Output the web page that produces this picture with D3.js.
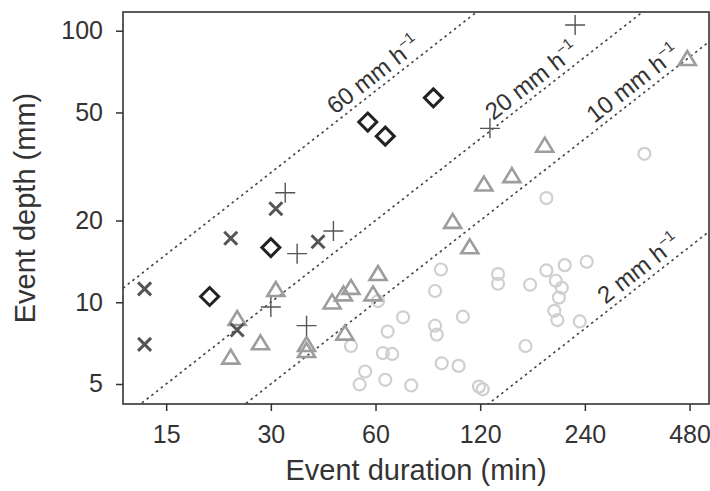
<!DOCTYPE html>
<html lang="en">
<head>
    <meta charset="UTF-8">
    <title>Event depth vs duration</title>
    <script src="https://d3js.org/d3.v7.min.js" charset="utf-8"></script>
    <style>
        body { margin: 0; background: #fff; }
        text { font-family: "Liberation Sans", Arial, sans-serif; }
    </style>
</head>
<body>
<script>
    // ticks
    var xTicks = [15, 30, 60, 120, 240, 480];
    var yTicks = [5, 10, 20, 50, 100];

    // rain intensity guide lines (mm per hour) and where their labels start (min)
    var rates = [60, 20, 10, 2];
    var rateLabelAt = [47, 134, 262, 282];

    // events, duration (min) and depth (mm), by group
    var circDur = [92.5, 89, 135, 135, 167, 186, 210, 243, 198, 206, 202, 196, 200, 232, 107, 89, 90, 72, 65,
                   63, 67, 93, 104, 162, 56, 54, 64, 76, 119, 122, 61, 51, 356, 186];
    var circDepth = [13.2, 11.0, 12.7, 11.7, 11.6, 13.1, 13.7, 14.1, 12.0, 11.3, 10.4, 9.3, 8.6, 8.5, 8.85, 8.2, 7.6, 8.8, 7.8,
                     6.5, 6.45, 5.96, 5.83, 6.9, 5.56, 4.98, 5.18, 4.94, 4.89, 4.78, 10.1, 6.9, 35.2, 24.2];

    var triDur = [473, 184, 148, 123, 100, 112, 61, 51, 48.5, 45, 59, 49, 38, 38, 31, 24, 28, 23];
    var triDepth = [78, 37.4, 28.9, 26.9, 19.6, 15.8, 12.6, 11.2, 10.6, 9.9, 10.6, 7.6, 6.9, 6.56, 11.0, 8.6, 7.0, 6.2];

    var crossDur = [31, 23, 41, 13, 13, 24];
    var crossDepth = [22.1, 17.2, 16.7, 11.2, 7.0, 7.9];

    var plusDur = [225, 128, 33, 35.7, 45.4, 30, 38];
    var plusDepth = [105, 43.7, 25.3, 15.1, 18.3, 9.6, 8.2];

    var diamondDur = [88, 57, 64, 30, 20];
    var diamondDepth = [56.6, 46.1, 40.9, 15.9, 10.5];

    var margin = {top: 12, right: 1, bottom: 87, left: 123},
        width = 710 - margin.left - margin.right,
        height = 491 - margin.top - margin.bottom;

    var x = d3.scaleLog().base(2).domain([11.27, 546]).range([0, width]);
    var y = d3.scaleLog().domain([4.22, 117.2]).range([height, 0]);

    var svg = d3.select("body").append("svg")
        .attr("width", 710)
        .attr("height", 491)
        .append("g")
        .attr("transform", "translate(" + margin.left + "," + margin.top + ")");

    svg.append("clipPath").attr("id", "plotclip")
        .append("rect").attr("width", width).attr("height", height);

    // guide lines
    var guides = svg.append("g").attr("clip-path", "url(#plotclip)");
    var xd = x.domain();
    rates.forEach(function (r) {
        var pts = [xd[0], xd[1]].map(function (t) { return [x(t), y(r * t / 60)]; });
        guides.append("path")
            .attr("d", d3.line()(pts))
            .attr("fill", "none")
            .attr("stroke", "#444")
            .attr("stroke-width", 1.6)
            .attr("stroke-dasharray", "2.5,3.5");
    });

    // guide labels
    rates.forEach(function (r, i) {
        var t = rateLabelAt[i];
        var px = x(t), py = y(r * t / 60);
        var ang = Math.atan2(y(r * t * 2 / 60) - py, x(t * 2) - px) * 180 / Math.PI;
        var lab = svg.append("text")
            .attr("transform", "translate(" + px + "," + py + ") rotate(" + ang + ")")
            .attr("dy", -6)
            .attr("font-size", 24)
            .attr("fill", "#333");
        lab.append("tspan").text(r + " mm h");
        lab.append("tspan").attr("font-size", 15).attr("dy", -10).text("\u22121");
    });

    function plot(dur, depth, draw) {
        dur.forEach(function (d, i) {
            draw(svg.append("g").attr("transform", "translate(" + x(d) + "," + y(depth[i]) + ")"));
        });
    }

    plot(circDur, circDepth, function (g) {
        g.append("circle").attr("r", 6).attr("fill", "none")
            .attr("stroke", "#cfcfcf").attr("stroke-width", 2.2);
    });
    plot(triDur, triDepth, function (g) {
        g.append("path").attr("d", "M0,-9L8.5,5L-8.5,5Z").attr("fill", "none")
            .attr("stroke", "#9d9d9d").attr("stroke-width", 2.6);
    });
    plot(crossDur, crossDepth, function (g) {
        g.append("path").attr("d", "M-6.5,-6.5L6.5,6.5M-6.5,6.5L6.5,-6.5")
            .attr("stroke", "#555").attr("stroke-width", 3);
    });
    plot(plusDur, plusDepth, function (g) {
        g.append("path").attr("d", "M-10,0L10,0M0,-10L0,10")
            .attr("stroke", "#555").attr("stroke-width", 1.4);
    });
    plot(diamondDur, diamondDepth, function (g) {
        g.append("path").attr("d", "M0,-9L9,0L0,9L-9,0Z").attr("fill", "none")
            .attr("stroke", "#222").attr("stroke-width", 3);
    });

    // axes
    var xAxis = svg.append("g")
        .attr("transform", "translate(0," + height + ")")
        .call(d3.axisBottom(x).tickValues(xTicks).tickFormat(d3.format("d")).tickSize(7).tickPadding(14));
    var yAxis = svg.append("g")
        .call(d3.axisLeft(y).tickValues(yTicks).tickFormat(d3.format("d")).tickSize(7).tickPadding(13));
    [xAxis, yAxis].forEach(function (a) {
        a.select(".domain").remove();
        a.selectAll("line").attr("stroke", "#333").attr("stroke-width", 1.5);
        a.selectAll("text").attr("font-size", 25).attr("fill", "#333")
            .style("font-family", "'Liberation Sans', Arial, sans-serif");
    });

    // frame
    svg.append("rect")
        .attr("width", width).attr("height", height)
        .attr("fill", "none").attr("stroke", "#333").attr("stroke-width", 1.6);

    // axis titles
    svg.append("text")
        .attr("x", width / 2)
        .attr("y", height + 76)
        .attr("text-anchor", "middle")
        .attr("font-size", 29)
        .attr("fill", "#333")
        .text("Event duration (min)");

    svg.append("text")
        .attr("transform", "rotate(-90)")
        .attr("x", -height / 2)
        .attr("y", 35 - margin.left)
        .attr("text-anchor", "middle")
        .attr("font-size", 29)
        .attr("fill", "#333")
        .text("Event depth (mm)");
</script>
</body>
</html>
